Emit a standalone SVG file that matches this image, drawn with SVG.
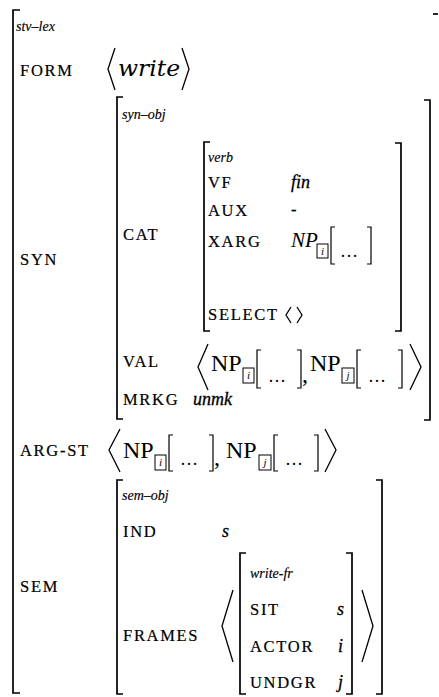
<svg xmlns="http://www.w3.org/2000/svg" width="439" height="697" viewBox="0 0 439 697">
  <style>
    .lbl { font-family: "Liberation Serif", serif; font-size: 16.5px; letter-spacing: 1.7px; fill: #000; stroke: #000; stroke-width: 0.2px; }
    .typ { font-family: "Liberation Serif", serif; font-style: italic; font-size: 14px; fill: #000; stroke: #000; stroke-width: 0.15px; }
    .val { font-family: "Liberation Serif", serif; font-style: italic; font-size: 18px; fill: #000; stroke: #000; stroke-width: 0.3px; }
    .np  { font-family: "Liberation Serif", serif; font-size: 24px; fill: #000; }
    .npi { font-family: "Liberation Serif", serif; font-style: italic; font-size: 21px; fill: #000; }
    .math { font-family: "DejaVu Serif", serif; font-style: italic; font-size: 22px; fill: #000; }
    .idx { font-family: "Liberation Serif", serif; font-style: italic; font-size: 11px; fill: #000; text-anchor: middle; }
    .dots { font-family: "Liberation Serif", serif; font-size: 18px; fill: #000; }
    .br  { fill: none; stroke: #000; stroke-width: 1.7; }
    .sb  { fill: none; stroke: #000; stroke-width: 1.2; }
    .ang { fill: none; stroke: #000; stroke-width: 1.3; stroke-linejoin: miter; }
    .tag { fill: none; stroke: #000; stroke-width: 1; }
  </style>

  <!-- outermost lexical entry -->
  <g id="avm-lex">
    <path class="br" d="M20,10 H13 V693 H20"/>
    <path class="br" d="M433,14 H438"/>
    <text class="typ" x="16" y="31">stv–lex</text>
    <text class="lbl" x="20" y="76">FORM</text>
    <polyline class="ang" points="115,48 108,69 115,90"/>
    <text class="math" x="118" y="76" textLength="62" lengthAdjust="spacingAndGlyphs">write</text>
    <polyline class="ang" points="182,48 189,69 182,90"/>
    <text class="lbl" x="20" y="265">SYN</text>
    <text class="lbl" x="20" y="456">ARG-ST</text>
    <text class="lbl" x="20" y="592">SEM</text>

    <!-- ARG-ST list -->
    <polyline class="ang" points="120,429 109,450 120,472"/>
    <text class="np" x="123" y="458">NP</text>
    <rect class="tag" x="155" y="455" width="11" height="15"/>
    <text class="idx" x="160.5" y="466">i</text>
    <path class="sb" d="M173,435 H169 V471 H173"/>
    <text class="dots" x="180" y="465">…</text>
    <path class="sb" d="M209,435 H213 V471 H209"/>
    <text class="np" x="214" y="465" font-size="20">,</text>
    <text class="np" x="226" y="458">NP</text>
    <rect class="tag" x="259" y="455" width="12" height="15"/>
    <text class="idx" x="265" y="466">j</text>
    <path class="sb" d="M278,435 H274 V471 H278"/>
    <text class="dots" x="285" y="465">…</text>
    <path class="sb" d="M314,435 H318 V471 H314"/>
    <polyline class="ang" points="325,429 336,450 325,472"/>
  </g>

  <!-- syntactic object -->
  <g id="avm-syn">
    <path class="br" d="M123,97 H117 V419 H123"/>
    <path class="br" d="M424,100 H430 V420 H424"/>
    <text class="typ" x="122" y="119">syn–obj</text>
    <text class="lbl" x="123" y="240">CAT</text>
    <text class="lbl" x="123" y="367">VAL</text>
    <text class="lbl" x="123" y="405">MRKG</text>
    <text class="val" x="193" y="405">unmk</text>

    <!-- VAL list -->
    <polyline class="ang" points="208,344 198,367 208,390"/>
    <text class="np" x="211" y="371">NP</text>
    <rect class="tag" x="243" y="368" width="11" height="15"/>
    <text class="idx" x="248.5" y="379">i</text>
    <path class="sb" d="M261,350 H257 V388 H261"/>
    <text class="dots" x="268" y="382">…</text>
    <path class="sb" d="M297,350 H301 V388 H297"/>
    <text class="np" x="302" y="382" font-size="20">,</text>
    <text class="np" x="310" y="371">NP</text>
    <rect class="tag" x="342" y="368" width="12" height="15"/>
    <text class="idx" x="348" y="379">j</text>
    <path class="sb" d="M361,350 H357 V388 H361"/>
    <text class="dots" x="368" y="382">…</text>
    <path class="sb" d="M398,350 H402 V388 H398"/>
    <polyline class="ang" points="410,344 421,367 410,390"/>
  </g>

  <!-- category value -->
  <g id="avm-cat">
    <path class="br" d="M210,142 H204 V331 H210"/>
    <path class="br" d="M395,143 H401 V331 H395"/>
    <text class="typ" x="208" y="162">verb</text>
    <text class="lbl" x="208" y="188">VF</text>
    <text class="val" x="291" y="188">fin</text>
    <text class="lbl" x="291" y="215">-</text>
    <text class="lbl" x="208" y="216">AUX</text>
    <text class="lbl" x="208" y="247">XARG</text>
    <text class="npi" x="291" y="247">NP</text>
    <rect class="tag" x="317" y="244" width="11" height="14"/>
    <text class="idx" x="322.5" y="255">i</text>
    <path class="sb" d="M335,227 H331 V264 H335"/>
    <text class="dots" x="340" y="257">…</text>
    <path class="sb" d="M367,227 H371 V264 H367"/>
    <text class="lbl" x="208" y="320">SELECT</text>
    <polyline class="ang" points="291,307 286,315 291,323"/>
    <polyline class="ang" points="297,307 302,315 297,323"/>
  </g>

  <!-- semantic object -->
  <g id="avm-sem">
    <path class="br" d="M123,480 H117 V694 H123"/>
    <path class="br" d="M376,480 H382 V694 H376"/>
    <text class="typ" x="122" y="500">sem–obj</text>
    <text class="lbl" x="123" y="537">IND</text>
    <text class="val" x="222" y="537">s</text>
    <text class="lbl" x="123" y="641">FRAMES</text>
    <polyline class="ang" points="233,590 222,626 233,662"/>
    <polyline class="ang" points="362,590 373,626 362,662"/>
  </g>

  <!-- frame inside FRAMES list -->
  <g id="avm-frame">
    <path class="br" d="M246,553 H240 V694 H246"/>
    <path class="br" d="M346,553 H352 V694 H346"/>
    <text class="typ" x="250" y="578">write-fr</text>
    <text class="lbl" x="250" y="615">SIT</text>
    <text class="val" x="337" y="615">s</text>
    <text class="lbl" x="250" y="652">ACTOR</text>
    <text class="val" x="338" y="652">i</text>
    <text class="lbl" x="250" y="688">UNDGR</text>
    <text class="val" x="338" y="688">j</text>
  </g>

  <g id="connectors"/>
</svg>
